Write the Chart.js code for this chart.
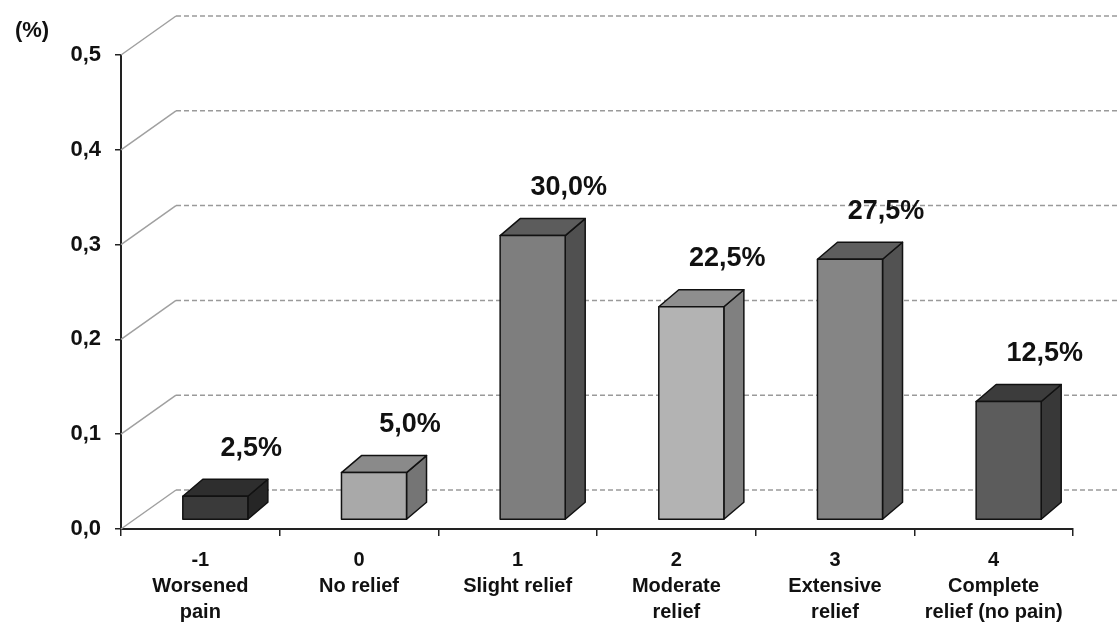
<!DOCTYPE html>
<html>
<head>
<meta charset="utf-8">
<script src="https://cdn.jsdelivr.net/npm/chart.js@4"></script>
<style>
html,body{margin:0;padding:0;background:#fff;}
#wrap{position:relative;width:1118px;height:624px;}
</style>
</head>
<body>
<div id="wrap"><canvas id="c" width="1118" height="624"></canvas></div>
<script>
// ---- data ----
const categories = [
  ['-1', 'Worsened', 'pain'],
  ['0', 'No relief'],
  ['1', 'Slight relief'],
  ['2', 'Moderate', 'relief'],
  ['3', 'Extensive', 'relief'],
  ['4', 'Complete', 'relief (no pain)']
];
const values = [0.025, 0.05, 0.30, 0.225, 0.275, 0.125];
const valueLabels = ['2,5%', '5,0%', '30,0%', '22,5%', '27,5%', '12,5%'];
const yTickValues = [0, 0.1, 0.2, 0.3, 0.4, 0.5];
const yTickLabels = ['0,0', '0,1', '0,2', '0,3', '0,4', '0,5'];
const yUnit = '(%)';

// ---- styles ----
const frontColors = ['#3a3a3a', '#a9a9a9', '#7e7e7e', '#b3b3b3', '#858585', '#5c5c5c'];
const topColors   = ['#2e2e2e', '#8a8a8a', '#5c5c5c', '#8e8e8e', '#5e5e5e', '#3c3c3c'];
const sideColors  = ['#262626', '#757575', '#505050', '#808080', '#525252', '#383838'];
const FONT = "'Liberation Sans', Arial, sans-serif";

const OX = 15, OY = -9;     // bar front offset (depth position)
const DX = 20, DY = -17;    // bar depth
const WX = 55, WY = -39;    // back wall offset

const box3d = {
  id: 'box3d',
  beforeDatasetsDraw(chart) {
    const ctx = chart.ctx;
    const ys = chart.scales.y;
    const area = chart.chartArea;
    ctx.save();
    yTickValues.forEach(v => {
      const py = ys.getPixelForValue(v);
      ctx.strokeStyle = '#a0a0a0';
      ctx.lineWidth = 1.5;
      ctx.setLineDash([]);
      ctx.beginPath();
      ctx.moveTo(area.left, py);
      ctx.lineTo(area.left + WX, py + WY);
      ctx.stroke();
      ctx.strokeStyle = '#9a9a9a';
      ctx.setLineDash([5, 3]);
      ctx.beginPath();
      ctx.moveTo(area.left + WX, py + WY);
      ctx.lineTo(chart.width, py + WY);
      ctx.stroke();
    });
    ctx.restore();
  },
  beforeDatasetDraw(chart, args) {
    const ctx = chart.ctx;
    const meta = args.meta;
    ctx.save();
    ctx.setLineDash([]);
    ctx.lineJoin = 'round';
    ctx.strokeStyle = '#111';
    ctx.lineWidth = 1.5;
    meta.data.forEach((bar, i) => {
      const p = bar.getProps(['x', 'y', 'base', 'width'], true);
      const l = p.x - p.width / 2 + OX, r = p.x + p.width / 2 + OX;
      const t = p.y + OY, b = p.base + OY;
      // side
      ctx.fillStyle = sideColors[i];
      ctx.beginPath();
      ctx.moveTo(r, t); ctx.lineTo(r + DX, t + DY); ctx.lineTo(r + DX, b + DY); ctx.lineTo(r, b); ctx.closePath();
      ctx.fill(); ctx.stroke();
      // top
      ctx.fillStyle = topColors[i];
      ctx.beginPath();
      ctx.moveTo(l, t); ctx.lineTo(l + DX, t + DY); ctx.lineTo(r + DX, t + DY); ctx.lineTo(r, t); ctx.closePath();
      ctx.fill(); ctx.stroke();
      // front
      ctx.fillStyle = frontColors[i];
      ctx.beginPath();
      ctx.rect(l, t, r - l, b - t);
      ctx.fill(); ctx.stroke();
    });
    ctx.restore();
    return false;
  },
  afterDatasetsDraw(chart) {
    const ctx = chart.ctx;
    const meta = chart.getDatasetMeta(0);
    ctx.save();
    ctx.fillStyle = '#111';
    ctx.font = 'bold 27px ' + FONT;
    ctx.textAlign = 'center';
    ctx.textBaseline = 'middle';
    meta.data.forEach((bar, i) => {
      ctx.fillText(valueLabels[i], bar.x + 51, bar.y - 57);
    });
    ctx.font = 'bold 22px ' + FONT;
    ctx.fillText(yUnit, 32, 31);
    ctx.restore();
  }
};

new Chart(document.getElementById('c'), {
  type: 'bar',
  data: {
    labels: categories,
    datasets: [{
      data: values,
      backgroundColor: frontColors,
      borderColor: '#111',
      borderWidth: 1.5,
      categoryPercentage: 1,
      barPercentage: 0.41
    }]
  },
  options: {
    responsive: false,
    animation: false,
    events: [],
    layout: { padding: { left: 0, top: 55, right: 45, bottom: 0 } },
    plugins: { legend: { display: false }, tooltip: { enabled: false } },
    scales: {
      x: {
        offset: true,
        grid: { display: true, drawOnChartArea: false, drawTicks: true, tickLength: 7, color: '#222', lineWidth: 1.5, offset: true },
        border: { display: true, color: '#222', width: 2 },
        ticks: { color: '#111', font: { family: FONT, size: 20, weight: 'bold', lineHeight: 1.3 }, padding: 11, maxRotation: 0, autoSkip: false },
        afterFit(scale) { scale.height = 95; }
      },
      y: {
        min: 0, max: 0.5,
        afterBuildTicks(scale) { scale.ticks = yTickValues.map(v => ({ value: v })); },
        grid: { display: true, drawOnChartArea: false, drawTicks: true, tickLength: 6, color: '#222', lineWidth: 1.5 },
        border: { display: true, color: '#222', width: 2 },
        ticks: {
          color: '#111', font: { family: FONT, size: 22, weight: 'bold' }, padding: 14,
          callback: (v) => yTickLabels[yTickValues.findIndex(t => Math.abs(t - v) < 1e-9)]
        },
        afterFit(scale) { scale.width = 121; }
      }
    }
  },
  plugins: [box3d]
});
</script>
</body>
</html>
